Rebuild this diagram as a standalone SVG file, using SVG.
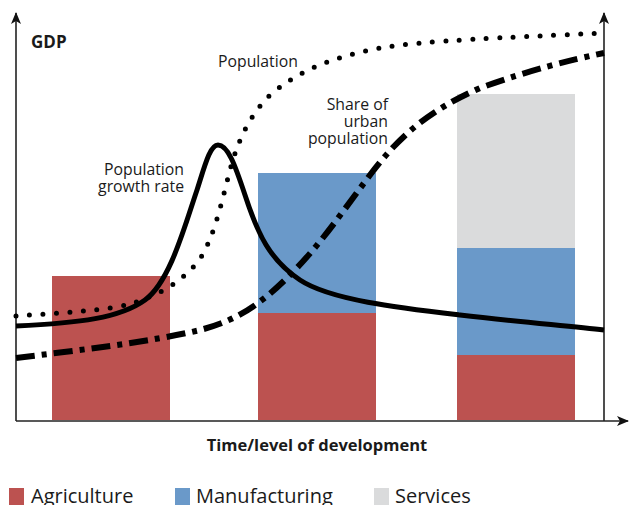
<svg xmlns="http://www.w3.org/2000/svg" width="629" height="505" viewBox="0 0 629 505">
<defs>
<marker id="arr" viewBox="0 0 12 10" refX="11" refY="5" markerWidth="12" markerHeight="10" markerUnits="userSpaceOnUse" orient="auto">
<path d="M0,0 L12,5 L0,10 L3,5 Z" fill="#111"/>
</marker>
<style>
.agr{fill:#BC5250}
.man{fill:#6A99C9}
.ser{fill:#DADBDC}
.axis{stroke:#222;stroke-width:1.6;fill:none}
.lbl{font-family:"Open Sans","Noto Sans","Liberation Sans",sans-serif;font-size:15.8px;fill:#1a1a1a}
.bold{font-weight:bold}
.leg{font-family:"Open Sans","Noto Sans","Liberation Sans",sans-serif;font-size:20px;fill:#1a1a1a}
.curve{fill:none;stroke:#000}
</style>
</defs>
<rect width="629" height="505" fill="#fff"/>
<g id="bars">
<g id="bar1"><rect class="agr" x="52" y="276" width="118" height="144"/></g>
<g id="bar2"><rect class="man" x="258" y="173" width="118" height="140"/><rect class="agr" x="258" y="313" width="118" height="107"/></g>
<g id="bar3"><rect class="ser" x="457" y="94" width="118" height="154"/><rect class="man" x="457" y="248" width="118" height="107"/><rect class="agr" x="457" y="355" width="118" height="65"/></g>
</g>
<g id="axes">
<path class="axis" d="M16,421 L16,13" marker-end="url(#arr)"/>
<path class="axis" d="M16,421 L628,421" marker-end="url(#arr)"/>
<path class="axis" d="M604,421 L604,13" marker-end="url(#arr)"/>
</g>
<g id="connectors">
<path id="urban" class="curve" stroke-width="6" stroke-dasharray="19 7 5 7" d="M16,358 C80,350 150,342 200,330 C240,320 265,300 290,275 C320,245 340,215 370,175 C400,135 430,110 480,88 C530,70 570,60 604,53"/>
<path id="population" class="curve" stroke-width="5" stroke-linecap="round" stroke-dasharray="0 13.5" d="M16,316 C60,313 110,310 130,304 C155,296 180,285 200,259 C215,235 222,200 230,170 C238,140 250,115 270,95 C300,70 330,58 380,48 C430,40 500,38 604,33"/>
<path id="growth" class="curve" stroke-width="5" d="M16,326 C80,323 120,318 145,300 C170,282 185,225 197,190 C205,165 210,145 218,145 C228,145 235,165 245,195 C258,235 270,260 300,280 C330,300 400,308 460,315 C520,322 570,326 604,330"/>
</g>
<g id="labels">
<text class="lbl bold" x="31" y="48" style="font-size:17px">GDP</text>
<text class="lbl" x="218" y="67">Population</text>
<text class="lbl" x="184" y="175" text-anchor="end">Population</text>
<text class="lbl" x="184" y="192" text-anchor="end">growth rate</text>
<text class="lbl" x="388" y="110" text-anchor="end">Share of</text>
<text class="lbl" x="388" y="127" text-anchor="end">urban</text>
<text class="lbl" x="388" y="144" text-anchor="end">population</text>
<text class="lbl bold" x="317" y="451" text-anchor="middle" style="font-size:16.5px">Time/level of development</text>
</g>
<g id="legend">
<rect class="agr" x="9" y="488" width="15" height="17"/>
<text class="leg" x="31" y="503">Agriculture</text>
<rect class="man" x="175" y="488" width="15" height="17"/>
<text class="leg" x="196" y="503">Manufacturing</text>
<rect class="ser" x="374" y="488" width="15" height="17"/>
<text class="leg" x="395" y="503">Services</text>
</g>
</svg>
